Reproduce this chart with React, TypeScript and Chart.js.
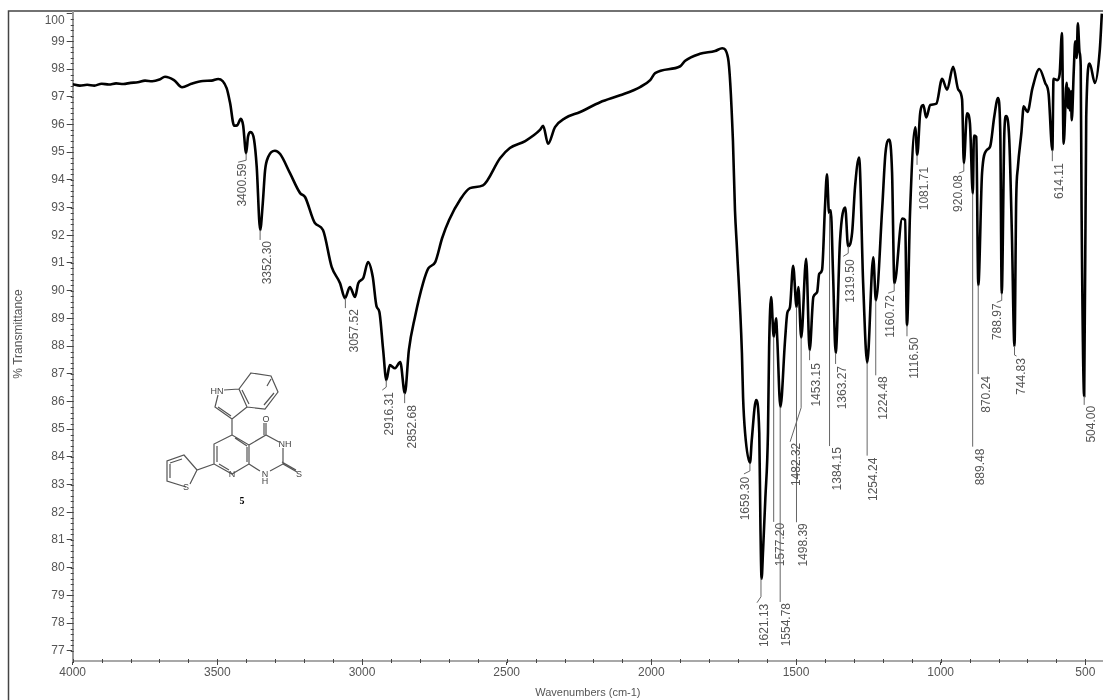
import { useEffect, useRef } from 'react'
import Chart from 'chart.js/auto'

const wavenumbers = [
  4000, 3975, 3950, 3925, 3900, 3875, 3850, 3825, 3800, 3775, 3750, 3725, 3700, 3681, 3650, 3622, 3590, 3550, 3520, 3497,
  3468, 3456, 3442, 3431, 3419, 3411, 3400.6, 3394, 3385, 3373, 3364, 3352, 3343, 3335, 3324, 3301, 3283, 3249, 3214,
  3197, 3163, 3135, 3105, 3076, 3059, 3042, 3024, 3013, 2996, 2979, 2963, 2950, 2940, 2927, 2916, 2904, 2886, 2868, 2852,
  2838, 2817, 2789, 2771, 2747, 2723, 2699, 2660, 2627, 2582, 2523, 2489, 2436, 2385, 2374, 2357, 2333, 2298, 2246, 2177,
  2108, 2039, 2004, 1987, 1900, 1883, 1832, 1780, 1755, 1735, 1718, 1711, 1704, 1687, 1683, 1676, 1659, 1653, 1638, 1627,
  1623, 1619, 1614, 1606, 1597, 1593, 1586, 1577, 1569, 1565, 1554, 1538, 1530, 1521, 1510, 1498, 1492, 1482, 1465, 1453,
  1440, 1427, 1420, 1410, 1400, 1393, 1386, 1380, 1372, 1363, 1348, 1330, 1320, 1306, 1296, 1282, 1268, 1254, 1233, 1224,
  1202, 1191, 1178, 1168, 1160, 1133, 1123, 1116.5, 1106, 1088, 1081, 1071, 1060, 1050, 1036, 1015, 995, 978, 957, 939,
  926, 920, 909, 899, 889, 885, 877, 870, 857, 841, 829, 815, 802, 794, 789, 780, 774, 763, 754, 745, 739, 733, 721, 713,
  700, 683, 659, 639, 627, 614, 610, 597, 589, 581, 575, 565, 560, 557, 554, 550, 547, 540, 535, 530, 526, 520, 516, 513,
  504, 497, 485, 467, 450, 443,
]

const transmittance = [
  97.45, 97.4, 97.43, 97.4, 97.47, 97.44, 97.48, 97.46, 97.5, 97.52, 97.58, 97.56, 97.62, 97.72, 97.6, 97.34, 97.47, 97.57,
  97.58, 97.64, 97.31, 96.77, 95.95, 95.97, 96.2, 95.97, 94.96, 95.56, 95.72, 95.44, 94.47, 92.19, 93.16, 94.35, 94.83,
  95.05, 94.93, 94.24, 93.52, 93.38, 92.44, 92.19, 90.86, 90.27, 89.73, 90.13, 89.77, 90.27, 90.45, 91.03, 90.5, 89.44,
  89.23, 87.86, 86.77, 87.31, 87.2, 87.42, 86.3, 87.86, 89.05, 90.27, 90.8, 91.03, 91.9, 92.55, 93.3, 93.7, 93.8, 94.78,
  95.15, 95.4, 95.8, 95.95, 95.3, 95.9, 96.23, 96.45, 96.8, 97.05, 97.35, 97.6, 97.85, 98.1, 98.3, 98.55, 98.65, 98.75,
  98.4, 95.4, 92.9, 91.5, 87.75, 86.15, 84.86, 83.78, 84.6, 86.05, 84.86, 81.5, 79.6, 80.6, 82.5, 84.86, 87.95, 89.77,
  88.33, 89.0, 88.3, 85.8, 88.2, 89.2, 89.4, 90.9, 89.4, 90.13, 88.3, 91.15, 87.85, 89.77, 89.95, 90.6, 90.75, 93.0, 94.2,
  92.8, 92.9, 90.6, 87.75, 91.8, 93.0, 91.6, 92.1, 93.75, 94.8, 90.27, 87.4, 91.2, 89.65, 93.0, 94.95, 95.45, 94.25, 90.27,
  92.6, 92.55, 88.75, 92.8, 95.9, 94.9, 96.4, 96.7, 96.25, 96.7, 96.75, 97.65, 97.25, 98.08, 97.25, 96.9, 94.6, 96.4, 96.05,
  93.5, 95.6, 95.55, 90.2, 94.25, 95.07, 95.2, 96.27, 96.95, 95.7, 89.9, 95.7, 96.3, 95.45, 92.1, 88.0, 93.3, 94.47, 95.7,
  96.65, 96.45, 97.3, 98.0, 97.5, 97.1, 95.07, 97.65, 97.6, 97.8, 99.3, 95.3, 97.5, 96.6, 97.3, 96.5, 97.2, 96.15, 97.95,
  99.0, 98.4, 99.65, 98.6, 98.1, 92.9, 86.2, 96.27, 98.2, 97.5, 98.7, 100,
]

const xTicks = [500, 1000, 1500, 2000, 2500, 3000, 3500, 4000]
const yTicks = [77, 78, 79, 80, 81, 82, 83, 84, 85, 86, 87, 88, 89, 90, 91, 92, 93, 94, 95, 96, 97, 98, 99, 100]

// picked peaks
const peakWaves = [
  3400.59, 3352.3, 3057.52, 2916.31, 2852.68, 1659.3, 1621.13, 1577.2, 1554.78, 1498.39, 1482.32, 1453.15, 1384.15,
  1363.27, 1319.5, 1254.24, 1224.48, 1160.72, 1116.5, 1081.71, 920.08, 889.48, 870.24, 788.97, 744.83, 614.11, 504.0,
]
const peakValues = [
  94.96, 92.19, 89.73, 86.77, 86.3, 83.78, 79.6, 88.33, 85.8, 89.4, 88.3, 87.85, 92.8, 87.75, 91.6, 87.4, 89.65, 90.27,
  88.75, 94.9, 94.6, 93.5, 90.2, 89.9, 88.0, 95.07, 86.2,
]
const peakLabels = [
  '3400.59', '3352.30', '3057.52', '2916.31', '2852.68', '1659.30', '1621.13', '1577.20', '1554.78', '1498.39', '1482.32',
  '1453.15', '1384.15', '1363.27', '1319.50', '1254.24', '1224.48', '1160.72', '1116.50', '1081.71', '920.08', '889.48',
  '870.24', '788.97', '744.83', '614.11', '504.00',
]

// leader length, hook sideways, hook drop, label x offset, label top offset (all px from the peak)
const peakLeaders = [
  [7, -8, 2, -3, 10], [10, 0, 0, 7.5, 11], [10, 0, 0, 9, 11], [7, -4, 3, 3, 12], [10, 0, 0, 8.5, 12], [8, -6, 3, -4, 14],
  [18, -4, 6, 3.5, 25], [185, 0, 0, 7, 186], [195, 0, 0, 7, 196], [215, 0, 0, 7, 216], [70, -11, 34, -4.5, 105],
  [10, 0, 0, 7.5, 13], [233, 0, 0, 8, 234], [11, 0, 0, 7.5, 13], [7, -5, 3, 2, 13], [93, 0, 0, 7, 95], [75, 0, 0, 7.5, 76],
  [8, -6, 2, -3, 12], [11, 0, 0, 8, 12], [10, 0, 0, 8, 12], [8, -5, 2, -5, 12], [253, 0, 0, 8, 255], [89, 0, 0, 8, 91],
  [7, -5, 2, -4, 10], [9, 2, 1, 7.5, 12], [11, 0, 0, 7.5, 13], [9, 0, 0, 7.5, 10],
]

const FONT = '"Liberation Sans", Arial, sans-serif'
const GREY = '#555'

const frameAndTicks = {
  id: 'frameAndTicks',
  beforeDraw(chart: any) {
    const { ctx } = chart
    ctx.save()
    ctx.strokeStyle = '#444'
    ctx.lineWidth = 1.5
    ctx.beginPath()
    ctx.moveTo(8.5, 700)
    ctx.lineTo(8.5, 11)
    ctx.lineTo(1103, 11)
    ctx.stroke()
    ctx.restore()
  },
  afterDatasetsDraw(chart: any) {
    const { ctx, scales, chartArea } = chart
    ctx.save()
    ctx.strokeStyle = '#444'
    ctx.lineWidth = 1
    ctx.beginPath()
    // minor ticks, the library only draws the labelled ones
    for (let v = 77; v <= 100; v += 0.2) {
      const y = Math.round(scales.y.getPixelForValue(v)) + 0.5
      ctx.moveTo(chartArea.left - 2, y)
      ctx.lineTo(chartArea.left + 1, y)
    }
    for (let w = 500; w <= 4000; w += 100) {
      const x = Math.round(scales.x.getPixelForValue(w)) + 0.5
      ctx.moveTo(x, chartArea.bottom - 2)
      ctx.lineTo(x, chartArea.bottom + 2)
    }
    ctx.stroke()

    ctx.font = `12px ${FONT}`
    ctx.textBaseline = 'middle'
    peakWaves.forEach((w, i) => {
      const x = scales.x.getPixelForValue(w)
      const y = scales.y.getPixelForValue(peakValues[i])
      const [len, hookX, hookY, textX, textY] = peakLeaders[i]
      ctx.strokeStyle = '#666'
      ctx.beginPath()
      ctx.moveTo(x, y)
      ctx.lineTo(x, y + len)
      if (hookX) ctx.lineTo(x + hookX, y + len + hookY)
      ctx.stroke()
      ctx.save()
      ctx.translate(x + textX, y + textY)
      ctx.rotate(-Math.PI / 2)
      ctx.fillStyle = GREY
      ctx.textAlign = 'right'
      ctx.fillText(peakLabels[i], 0, 0)
      ctx.restore()
    })

    // y title sits above the axis centre, so it is placed here
    ctx.save()
    ctx.translate(19, 334)
    ctx.rotate(-Math.PI / 2)
    ctx.font = `12px ${FONT}`
    ctx.fillStyle = GREY
    ctx.textAlign = 'center'
    ctx.fillText('% Transmittance', 0, 0)
    ctx.restore()
    ctx.restore()
  },
}

function Molecule() {
  const bonds = 'M251 373L271 376L278 392L265 409L247 407L239 389Z M271 379L267 386 M274 393L264 405 M249 404L242 390 ' +
    'M239 389L224 390 M218 395L215 407L232 419L247 407 M218 407L231 416 M232 419V435L249 445V464L232 474L214 464V444L232 435 ' +
    'M235 438L247 446 M247 447V462 M217 446V462 M229 470L219 464 M249 445L266 435L279 442 M266 435V423 M264 435V423 ' +
    'M283 448V464L270 471 M283 464L297 472 M282 462L296 470 M260 471L249 464 M214 464L197 470L184 455L167 461L167 481L186 487 ' +
    'M197 470L190 484 M182 459L170 463 M170 464V478'
  return (
    <svg
      width={1103}
      height={700}
      style={{ position: 'absolute', left: 0, top: 0, pointerEvents: 'none' }}
    >
      <path d={bonds} fill="none" stroke="#555" strokeWidth={1.2} />
      <g fontFamily={FONT} fontSize={9} fill="#444" textAnchor="middle">
        <text x={217} y={394}>HN</text>
        <text x={266} y={422}>O</text>
        <text x={285} y={447}>NH</text>
        <text x={232} y={477}>N</text>
        <text x={265} y={477}>N</text>
        <text x={265} y={484}>H</text>
        <text x={299} y={477}>S</text>
        <text x={186} y={490}>S</text>
      </g>
      <text x={242} y={504} fontFamily="Liberation Serif" fontWeight="bold" fontSize={10} textAnchor="middle">5</text>
    </svg>
  )
}

export default function App() {
  const canvasRef = useRef<HTMLCanvasElement | null>(null)

  useEffect(() => {
    if (!canvasRef.current) return

    const chart = new Chart(canvasRef.current, {
      type: 'line',
      data: {
        datasets: [
          {
            data: wavenumbers.map((w, i) => ({ x: w, y: transmittance[i] })),
            borderColor: '#000',
            borderWidth: 2.6,
            pointRadius: 0,
            cubicInterpolationMode: 'monotone',
          },
        ],
      },
      options: {
        responsive: false,
        animation: false,
        layout: { padding: { top: 12, left: 12, right: 0, bottom: 0 } },
        plugins: { legend: { display: false }, tooltip: { enabled: false } },
        scales: {
          x: {
            type: 'linear',
            reverse: true,
            min: 439,
            max: 4000,
            afterFit: (scale: any) => {
              scale.height = 39
              scale.paddingLeft = 0
              scale.paddingRight = 0
            },
            afterBuildTicks: (scale: any) => {
              scale.ticks = xTicks.map((value) => ({ value }))
            },
            ticks: {
              maxRotation: 0,
              autoSkip: false,
              padding: 0,
              color: GREY,
              font: { family: FONT, size: 12 },
              callback: (v: any) => String(v),
            },
            grid: { drawOnChartArea: false, tickLength: 4, tickColor: '#444' },
            border: { color: '#a8a8a8', width: 2 },
            title: {
              display: true,
              text: 'Wavenumbers (cm-1)',
              color: GREY,
              padding: 0,
              font: { family: FONT, size: 11 },
            },
          },
          y: {
            min: 76.63,
            max: 100.058,
            afterFit: (scale: any) => {
              scale.width = 60.7
              scale.paddingTop = 0
              scale.paddingBottom = 0
            },
            afterBuildTicks: (scale: any) => {
              scale.ticks = yTicks.map((value) => ({ value }))
            },
            ticks: {
              autoSkip: false,
              padding: 2,
              color: GREY,
              font: { family: FONT, size: 12 },
              // the top label sits lower than its tick in the reference
              callback: (v: any) => (v === 100 ? ['', '100'] : String(v)),
            },
            grid: { drawOnChartArea: false, tickLength: 6, tickColor: '#444' },
            border: { color: '#999', width: 2 },
          },
        },
      },
      plugins: [frameAndTicks],
    })

    return () => {
      chart.destroy()
    }
  }, [])

  return (
    <div style={{ position: 'absolute', left: 0, top: 0, width: 1103, height: 700, background: '#fff' }}>
      <canvas ref={canvasRef} width={1103} height={700} style={{ display: 'block' }} />
      <Molecule />
    </div>
  )
}
